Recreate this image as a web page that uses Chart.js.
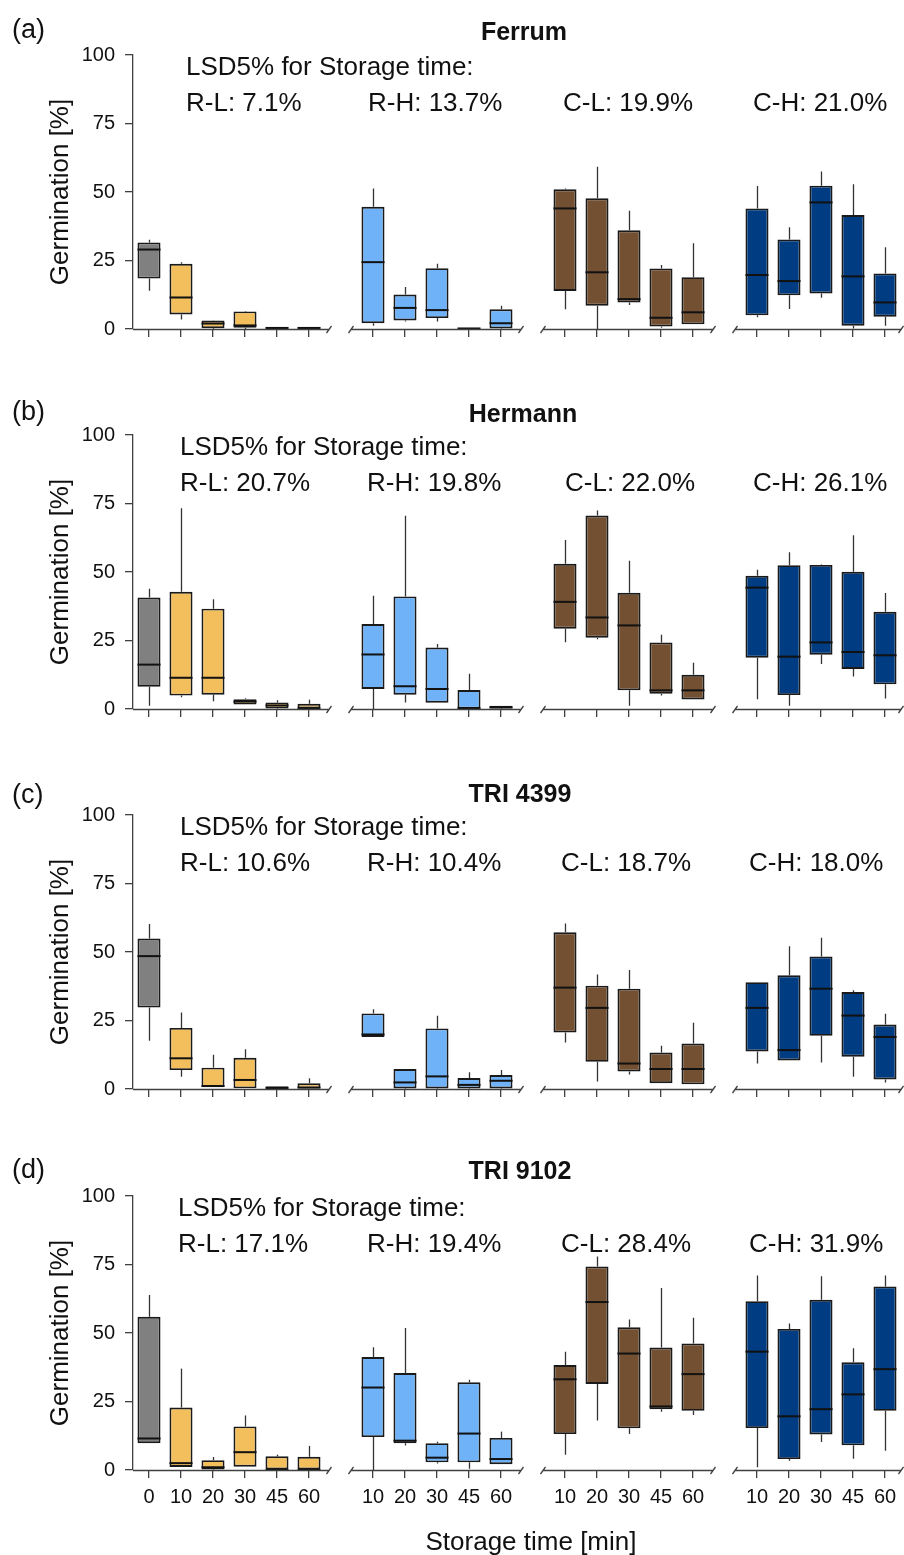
<!DOCTYPE html>
<html>
<head>
<meta charset="utf-8">
<title>Germination after storage</title>
<script src="https://cdn.jsdelivr.net/npm/chart.js@4.4.1/dist/chart.umd.min.js"></script>
<style>
  html, body { margin: 0; padding: 0; background: #ffffff; }
  #fig { position: relative; width: 904px; height: 1555px; overflow: hidden; }
  #fig canvas { position: absolute; left: 0; }
</style>
</head>
<body>
<div id="fig">
  <canvas id="panelA" width="904" height="380" style="top:0px"></canvas>
  <canvas id="panelB" width="904" height="380" style="top:380px"></canvas>
  <canvas id="panelC" width="904" height="380" style="top:760px"></canvas>
  <canvas id="panelD" width="904" height="414" style="top:1141px"></canvas>
</div>
<script>
// ---- categories ----
const storageRL = ['0', '10', '20', '30', '45', '60'];
const storageTreated = ['10', '20', '30', '45', '60'];
const groupNames = ['R-L', 'R-H', 'C-L', 'C-H'];
const cultivars = ['Ferrum', 'Hermann', 'TRI 4399', 'TRI 9102'];
const panelTags = ['(a)', '(b)', '(c)', '(d)'];
const yTicks = [0, 25, 50, 75, 100];

// ---- LSD (5%) for storage time, per group ----
const lsdFerrum = [7.1, 13.7, 19.9, 21.0];
const lsdHermann = [20.7, 19.8, 22.0, 26.1];
const lsdTri4399 = [10.6, 10.4, 18.7, 18.0];
const lsdTri9102 = [17.1, 19.4, 28.4, 31.9];

// ---- box statistics, germination [%] ----
// order: R-L 0,10,20,30,45,60 | R-H 10..60 | C-L 10..60 | C-H 10..60
const ferrumMin = [14.0, 3.5, 0.0, 0.0, 0.0, 0.0,  1.2, 2.7, 2.7, 0.0, 0.0,  7.2, 0.0, 8.8, 0.5, 1.7,  4.3, 7.3, 11.4, 0.2, 1.2];
const ferrumQ1  = [18.4, 5.3, 0.3, 0.5, 0.0, 0.0,  2.1, 3.1, 4.0, 0.0, 0.2,  13.9, 8.5, 9.7, 0.9, 1.7,  5.0, 12.3, 13.0, 1.2, 4.5];
const ferrumMed = [29.0, 11.5, 2.0, 1.3, 0.3, 0.3,  24.4, 7.7, 6.9, 0.2, 2.1,  44.0, 20.7, 10.9, 4.1, 6.1,  19.7, 17.5, 46.2, 19.2, 9.7];
const ferrumQ3  = [31.6, 23.8, 3.1, 6.4, 0.8, 0.8,  44.6, 12.6, 22.2, 0.4, 7.2,  51.0, 47.7, 36.0, 22.1, 18.9,  44.0, 32.7, 52.3, 41.6, 20.3];
const ferrumMax = [32.6, 24.4, 3.2, 6.6, 0.8, 0.8,  51.3, 15.3, 23.8, 0.4, 8.5,  51.3, 59.2, 43.2, 23.4, 31.3,  52.2, 37.1, 57.5, 52.8, 29.8];

const hermannMin = [1.2, 4.3, 2.8, 1.6, 0.0, 0.0,  0.0, 2.4, 2.3, 0.0, 0.0,  24.4, 25.5, 1.2, 4.9, 3.5,  3.6, 1.2, 16.4, 11.9, 3.8];
const hermannQ1  = [8.1, 4.9, 5.2, 1.6, 0.2, 0.0,  7.3, 5.2, 2.3, 0.1, 0.2,  29.3, 26.0, 6.8, 5.6, 3.5,  18.7, 5.1, 19.8, 14.6, 9.0];
const hermannMed = [16.2, 11.4, 11.4, 2.7, 1.3, 0.2,  19.9, 8.3, 7.3, 0.3, 0.6,  39.1, 33.4, 30.5, 6.8, 6.8,  44.3, 19.1, 24.3, 20.8, 19.6];
const hermannQ3  = [40.7, 42.8, 36.6, 3.6, 2.4, 1.9,  31.0, 41.1, 22.4, 6.9, 1.2,  53.0, 70.6, 42.4, 24.3, 12.5,  48.6, 52.5, 52.6, 50.1, 35.5];
const hermannMax = [43.9, 73.3, 40.1, 3.9, 3.2, 3.4,  41.3, 70.5, 23.7, 12.9, 1.2,  61.7, 72.4, 54.1, 27.1, 16.9,  50.8, 57.2, 52.7, 63.4, 42.3];

const tri4399Min = [17.6, 4.5, 0.6, 0.0, 0.0, 0.0,  19.0, 0.0, 0.0, 0.0, 0.0,  17.0, 2.7, 5.3, 2.1, 1.7,  9.3, 10.4, 9.7, 4.5, 2.4];
const tri4399Q1  = [29.7, 6.9, 0.6, 0.0, 0.0, 0.0,  19.0, 0.2, 0.2, 0.2, 0.2,  20.6, 9.9, 6.4, 2.1, 1.7,  13.7, 10.4, 19.4, 11.8, 3.5];
const tri4399Med = [48.5, 11.2, 1.1, 3.3, 0.3, 0.5,  19.9, 2.4, 4.6, 1.5, 3.0,  37.0, 29.6, 9.3, 7.3, 7.3,  29.6, 14.2, 36.6, 26.8, 19.0];
const tri4399Q3  = [54.9, 22.3, 7.8, 11.4, 1.0, 2.1,  27.6, 7.3, 22.1, 4.0, 5.1,  57.2, 37.7, 36.6, 13.3, 16.6,  39.0, 41.5, 48.4, 35.4, 23.5];
const tri4399Max = [60.2, 27.9, 12.5, 14.5, 1.0, 3.9,  29.1, 7.3, 26.7, 6.1, 6.9,  60.4, 41.8, 43.4, 15.8, 24.2,  39.0, 52.1, 55.2, 36.0, 27.5];

const tri9102Min = [9.8, 1.1, 0.0, 1.2, 0.0, 0.0,  0.0, 8.9, 2.4, 0.5, 2.1,  5.6, 18.1, 13.1, 21.3, 20.1,  1.0, 3.4, 10.2, 4.1, 7.0];
const tri9102Q1  = [9.8, 1.1, 0.2, 1.2, 0.0, 0.0,  12.0, 9.8, 2.8, 2.8, 2.1,  13.1, 31.4, 15.2, 22.2, 21.6,  15.3, 4.0, 13.0, 9.0, 21.6];
const tri9102Med = [11.5, 2.5, 1.0, 6.5, 0.0, 0.0,  30.1, 10.7, 4.5, 13.3, 4.0,  33.1, 61.3, 42.5, 23.2, 35.0,  43.2, 19.6, 22.2, 27.6, 36.8];
const tri9102Q3  = [55.9, 22.8, 3.6, 15.9, 5.0, 4.8,  41.2, 35.4, 9.8, 32.0, 11.7,  38.3, 74.3, 52.1, 44.7, 46.2,  61.6, 51.5, 62.1, 39.3, 67.0];
const tri9102Max = [63.9, 37.0, 4.7, 19.9, 5.6, 8.8,  44.8, 51.8, 10.3, 32.9, 14.0,  43.2, 77.9, 54.9, 66.4, 55.6,  71.0, 53.5, 70.7, 44.4, 71.0];

// ---- styling ----
const FONT = '"Liberation Sans", Arial, Helvetica, sans-serif';
const TEXT = '#111111';
const AXIS = '#404040';
const controlColor = '#808080';
const groupColors = ['#F3BE5C', '#6FB2F7', '#735032', '#003C82'];

// ---- per-panel text layout ----
const canvasIds = ['panelA', 'panelB', 'panelC', 'panelD'];
const canvasHeights = [380, 380, 380, 414];
const tagBaseline = [37.5, 40, 43, 36.5];
const titleCenterX = [524, 523, 520, 520];
const titleBaseline = [39.5, 41.5, 41.5, 37.5];
const lsdX = [[186, 368, 563, 753], [180, 367, 565, 753], [180, 367, 561, 749], [178, 367, 561, 749]];

Chart.defaults.font.family = FONT;
Chart.defaults.color = TEXT;

// slot layout on the category axis: one empty slot between the four groups
const slotLabels = [];
const slotColors = [];
const slotOfValue = [];
storageRL.forEach((t, i) => {
  slotOfValue.push(slotLabels.length);
  slotLabels.push(t);
  slotColors.push(i === 0 ? controlColor : groupColors[0]);
});
for (let g = 1; g < groupNames.length; g++) {
  slotLabels.push('');
  slotColors.push('rgba(0,0,0,0)');
  storageTreated.forEach(t => {
    slotOfValue.push(slotLabels.length);
    slotLabels.push(t);
    slotColors.push(groupColors[g]);
  });
}
const gapSlots = slotLabels.map((l, i) => (l === '' ? i : -1)).filter(i => i >= 0);

function toSlots(values) {
  const out = new Array(slotLabels.length).fill(null);
  values.forEach((v, i) => { out[slotOfValue[i]] = v; });
  return out;
}

// whiskers behind the boxes, medians on top
const boxWhiskerPlugin = {
  id: 'boxWhiskers',
  beforeDatasetsDraw(chart, args, opts) {
    const ctx = chart.ctx;
    const y = chart.scales.y;
    const meta = chart.getDatasetMeta(0);
    ctx.save();
    ctx.strokeStyle = '#333333';
    ctx.lineWidth = 1.3;
    meta.data.forEach((el, i) => {
      if (opts.min[i] === null) return;
      const x = Math.round(el.x) + 0.5;
      ctx.beginPath();
      ctx.moveTo(x, y.getPixelForValue(opts.max[i]));
      ctx.lineTo(x, y.getPixelForValue(opts.q3[i]));
      ctx.moveTo(x, y.getPixelForValue(opts.q1[i]));
      ctx.lineTo(x, y.getPixelForValue(opts.min[i]));
      ctx.stroke();
    });
    ctx.restore();
  },
  afterDatasetsDraw(chart, args, opts) {
    const ctx = chart.ctx;
    const y = chart.scales.y;
    const meta = chart.getDatasetMeta(0);
    ctx.save();
    ctx.strokeStyle = '#111111';
    ctx.lineWidth = 2;
    meta.data.forEach((el, i) => {
      if (opts.med[i] === null) return;
      const py = y.getPixelForValue(opts.med[i]);
      ctx.beginPath();
      ctx.moveTo(el.x - el.width / 2, py);
      ctx.lineTo(el.x + el.width / 2, py);
      ctx.stroke();
    });
    ctx.restore();
  }
};

// x-axis drawn in pieces, one per group, with break marks
const brokenAxisPlugin = {
  id: 'brokenAxis',
  afterDraw(chart) {
    const ctx = chart.ctx;
    const xs = chart.scales.x;
    const y0 = Math.round(chart.scales.y.getPixelForValue(0)) + 0.5;
    const segs = [];
    let start = chart.chartArea.left;
    gapSlots.forEach(g => {
      const c = xs.getPixelForValue(g);
      segs.push([start, c - 12]);
      start = c + 10;
    });
    segs.push([start, chart.chartArea.right]);
    ctx.save();
    ctx.strokeStyle = AXIS;
    ctx.lineWidth = 1.3;
    const slash = (x) => {
      ctx.moveTo(x - 2.5, y0 + 3.5);
      ctx.lineTo(x + 2.5, y0 - 3.5);
    };
    ctx.beginPath();
    segs.forEach((s, k) => {
      ctx.moveTo(s[0], y0);
      ctx.lineTo(s[1], y0);
      if (k > 0) slash(s[0]);
      slash(s[1]);
    });
    ctx.stroke();
    ctx.restore();
  }
};

// panel tag, cultivar title, LSD notes and the shared x title
const panelTextPlugin = {
  id: 'panelText',
  afterDraw(chart, args, opts) {
    const ctx = chart.ctx;
    const p = opts.panel;
    ctx.save();
    ctx.fillStyle = TEXT;
    ctx.textBaseline = 'alphabetic';
    ctx.textAlign = 'left';
    ctx.font = '27px ' + FONT;
    ctx.fillText(panelTags[p], 12, tagBaseline[p]);
    ctx.font = 'bold 25px ' + FONT;
    ctx.textAlign = 'center';
    ctx.fillText(cultivars[p], titleCenterX[p], titleBaseline[p]);
    ctx.textAlign = 'left';
    ctx.font = '26px ' + FONT;
    ctx.fillText('LSD5% for Storage time:', lsdX[p][0], 74.5);
    opts.lsd.forEach((v, g) => {
      ctx.fillText(groupNames[g] + ': ' + v.toFixed(1) + '%', lsdX[p][g], 111);
    });
    if (opts.xTitle) {
      ctx.textAlign = 'center';
      ctx.fillText(opts.xTitle, 531, 409);
    }
    ctx.restore();
  }
};

function makePanel(p, stats, lsd) {
  const H = canvasHeights[p];
  const last = p === canvasIds.length - 1;
  const q1 = toSlots(stats.q1);
  const q3 = toSlots(stats.q3);
  const boxes = q1.map((v, i) => (v === null ? null : [v, q3[i]]));
  new Chart(document.getElementById(canvasIds[p]), {
    type: 'bar',
    data: {
      labels: slotLabels,
      datasets: [{
        data: boxes,
        backgroundColor: slotColors,
        borderColor: '#1a1a1a',
        borderWidth: 1.9,
        borderSkipped: false,
        barPercentage: 0.72,
        categoryPercentage: 1.0
      }]
    },
    options: {
      responsive: false,
      animation: false,
      events: [],
      layout: { padding: { top: 55, right: 3, left: 0, bottom: 0 } },
      plugins: {
        legend: { display: false },
        tooltip: { enabled: false },
        boxWhiskers: {
          min: toSlots(stats.min), q1: q1, med: toSlots(stats.med), q3: q3, max: toSlots(stats.max)
        },
        panelText: { panel: p, lsd: lsd, xTitle: last ? 'Storage time [min]' : '' }
      },
      scales: {
        x: {
          type: 'category',
          offset: true,
          border: { display: false },
          grid: {
            offset: false,
            drawOnChartArea: false,
            drawTicks: true,
            tickLength: 8,
            lineWidth: 1.3,
            color: (c) => (slotLabels[c.index] === '' ? 'rgba(0,0,0,0)' : AXIS)
          },
          ticks: {
            display: last,
            autoSkip: false,
            maxRotation: 0,
            minRotation: 0,
            padding: 7,
            color: TEXT,
            font: { family: FONT, size: 20 }
          },
          afterFit: (s) => { s.height = H - 329; }
        },
        y: {
          min: 0,
          max: 100,
          afterBuildTicks: (s) => { s.ticks = yTicks.map(v => ({ value: v })); },
          ticks: { padding: 10, color: TEXT, font: { family: FONT, size: 20 } },
          grid: { drawOnChartArea: false, drawTicks: true, tickLength: 8, color: AXIS, lineWidth: 1.3 },
          border: { display: true, color: AXIS, width: 1.3 },
          title: {
            display: true,
            text: 'Germination [%]',
            color: TEXT,
            font: { family: FONT, size: 26 },
            padding: { top: 45, bottom: 0 }
          },
          afterFit: (s) => { s.width = 133; }
        }
      }
    },
    plugins: [boxWhiskerPlugin, brokenAxisPlugin, panelTextPlugin]
  });
}

makePanel(0, { min: ferrumMin, q1: ferrumQ1, med: ferrumMed, q3: ferrumQ3, max: ferrumMax }, lsdFerrum);
makePanel(1, { min: hermannMin, q1: hermannQ1, med: hermannMed, q3: hermannQ3, max: hermannMax }, lsdHermann);
makePanel(2, { min: tri4399Min, q1: tri4399Q1, med: tri4399Med, q3: tri4399Q3, max: tri4399Max }, lsdTri4399);
makePanel(3, { min: tri9102Min, q1: tri9102Q1, med: tri9102Med, q3: tri9102Q3, max: tri9102Max }, lsdTri9102);
</script>
</body>
</html>
